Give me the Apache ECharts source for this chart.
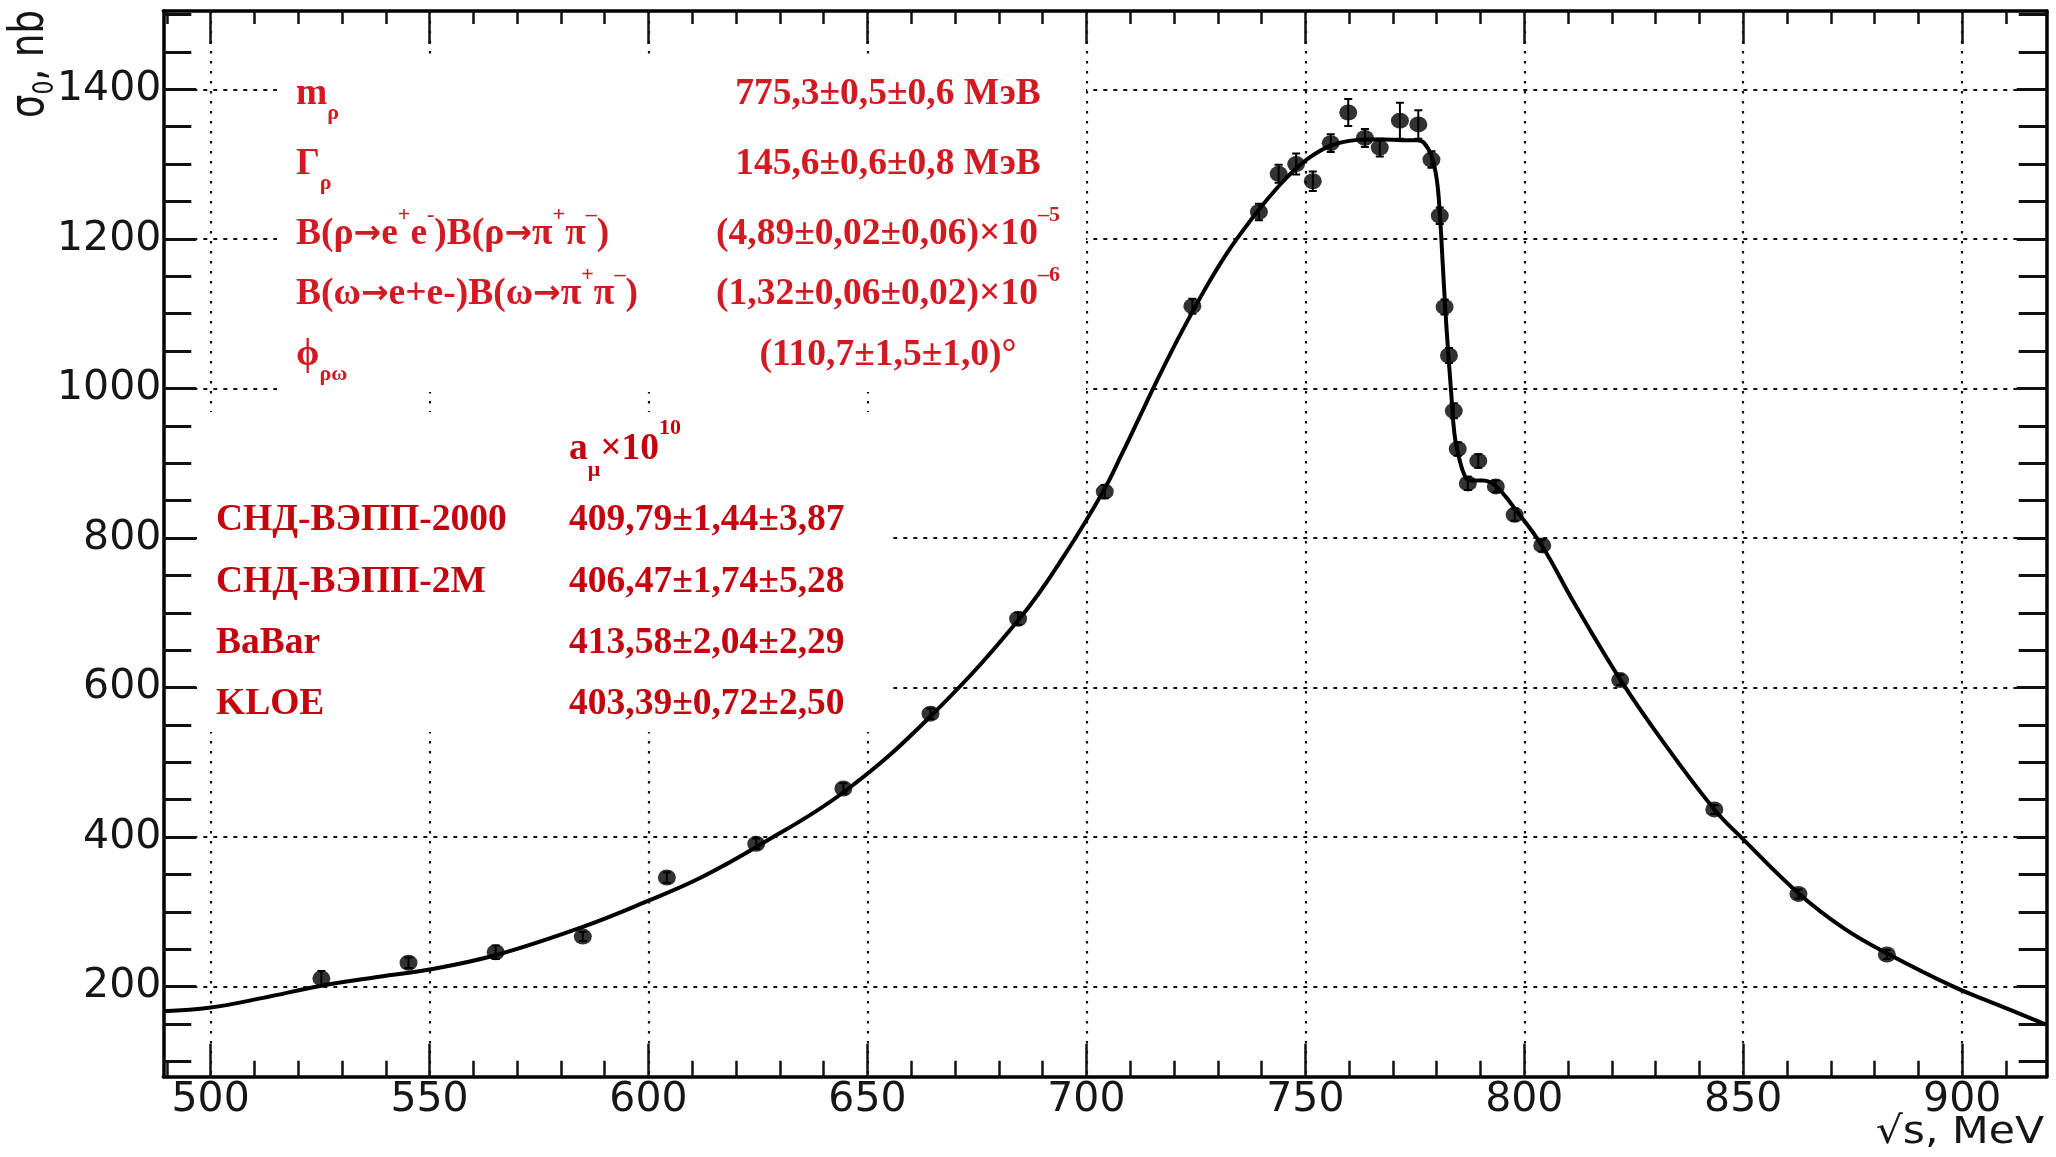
<!DOCTYPE html>
<html>
<head>
<meta charset="utf-8">
<script src="https://cdn.jsdelivr.net/npm/echarts@6.0.0/dist/echarts.min.js"></script>
<style>
  html, body { margin: 0; padding: 0; background: #fff; }
  #chart { width: 2056px; height: 1157px; }
</style>
</head>
<body>
<div id="chart"></div>
<script>
// SND points: sqrt(s) in MeV, sigma_0 in nb, stat. error
var energy = [525.3, 545.2, 565.1, 585.0, 604.2, 624.6, 644.5, 664.4, 684.4, 704.2,
  724.2, 739.4, 743.9, 747.9, 751.7, 755.8, 759.8, 763.6, 767.0, 771.6,
  775.8, 778.8, 780.7, 781.8, 782.8, 783.9, 784.8, 787.1, 789.5, 793.5,
  797.8, 804.1, 821.9, 843.4, 862.6, 882.8];
var sigma = [211, 232, 246, 267, 346, 391, 465, 565, 692, 862,
  1110, 1236, 1287, 1300, 1277, 1328, 1369, 1335, 1322, 1358,
  1353, 1306, 1231, 1109, 1044, 970, 919, 873, 903, 869,
  831, 790, 610, 437, 324, 243];
var sigmaErr = [10, 7, 9, 6, 7, 7, 7, 7, 8, 9,
  10, 11, 12, 14, 13, 12, 18, 12, 12, 24,
  19, 11, 11, 10, 10, 10, 9, 9, 9, 8,
  8, 8, 7, 6, 6, 6];

// fit curve
var fitE = [489.2, 500, 512, 525, 537, 550, 565, 585, 600, 612, 625, 645, 665, 685, 695,
  704, 708, 712, 716, 720, 724, 728, 732, 736, 739.5, 744, 747.5, 751, 755.5, 760, 764,
  768, 772, 775.5, 777, 778.8, 780, 780.7, 781.4, 782.2, 783.3, 784.1, 785.2, 786.4,
  787.5, 790.5, 793.6, 798, 804, 811.5, 822, 832, 843.4, 850, 862.6, 873, 883, 898,
  908, 919.3];
var fitSigma = [167, 172, 185, 201, 212, 223, 242, 280, 315, 346, 388, 462, 565, 694, 777,
  864, 911, 960, 1009, 1056, 1100, 1142, 1180, 1213, 1240, 1271, 1292, 1309, 1324, 1331, 1333,
  1333, 1332, 1332, 1329, 1311, 1280, 1235, 1164, 1084, 995, 937, 905, 883,
  877, 877, 869, 838, 790, 712, 610, 525, 437, 397, 325, 278, 244, 200,
  176, 149];

var xRange = [489.2, 919.3];
var yRange = [79.6, 1504.7];
var xMajor = [500, 550, 600, 650, 700, 750, 800, 850, 900];
var xMinor = [490, 510, 520, 530, 540, 560, 570, 580, 590, 610, 620, 630, 640,
  660, 670, 680, 690, 710, 720, 730, 740, 760, 770, 780, 790, 810, 820, 830, 840,
  860, 870, 880, 890, 910];
var yMajor = [200, 400, 600, 800, 1000, 1200, 1400];
var yMinor = [100, 150, 250, 300, 350, 450, 500, 550, 650, 700, 750, 850, 900, 950,
  1050, 1100, 1150, 1250, 1300, 1350, 1450, 1500];

// fit parameters (left: name, right: value)
var fitNames = ['{m|m}{sub|ρ}', '{m|Γ}{sub|ρ}',
  '{m|B(ρ}{arr|→}{m|e}{sup|+}{m|e}{sup|-}{m|)B(ρ}{arr|→}{m|π}{sup|+}{m|π}{sup|–}{m|)}',
  '{m|B(ω}{arr|→}{m|e+e-)B(ω}{arr|→}{m|π}{sup|+}{m|π}{sup|–}{m|)}',
  '{m|ϕ}{sub|ρω}'];
var fitValues = ['{m|775,3±0,5±0,6 МэВ}', '{m|145,6±0,6±0,8 МэВ}',
  '{m|(4,89±0,02±0,06)×10}{exp|–5}', '{m|(1,32±0,06±0,02)×10}{exp|–6}',
  '{m|(110,7±1,5±1,0)°}'];
var amuHeader = '{m|a}{sub|μ}{m|×10}{exp|10}';
var amuNames = ['СНД-ВЭПП-2000', 'СНД-ВЭПП-2М', 'BaBar', 'KLOE'];
var amuValues = ['409,79±1,44±3,87', '406,47±1,74±5,28', '413,58±2,04±2,29', '403,39±0,72±2,50'];

var SERIF = '"Liberation Serif", "DejaVu Serif", serif';
var SANS = '"DejaVu Sans", "Liberation Sans", sans-serif';
var RED = '#d11a22';
var RED2 = '#c2050f';
var INK = '#161616';

function richSet(size, color, lh) {
  var s = Math.round(size * 0.58);
  var base = { fontFamily: SERIF, fontWeight: 'bold', fill: color, color: color };
  return {
    m: echarts.util.extend({ fontSize: size, lineHeight: lh }, base),
    arr: { fontFamily: SANS, fontWeight: 'bold', fill: color, color: color,
      fontSize: Math.round(size * 0.88), lineHeight: lh - 4 },
    sub: echarts.util.extend({ fontSize: s, lineHeight: lh - 36, verticalAlign: 'bottom' }, base),
    sup: echarts.util.extend({ fontSize: s, lineHeight: lh - 4, verticalAlign: 'top' }, base),
    exp: echarts.util.extend({ fontSize: s, lineHeight: lh - 16, verticalAlign: 'top' }, base)
  };
}
var richTop = richSet(37.5, RED, 60);
var richBot = richSet(37.5, RED2, 64);

function label(x, y, text, rich, align) {
  return {
    type: 'text', x: x, y: y, z: 20,
    style: { text: text, rich: rich, fill: rich.m.fill, align: align, textAlign: align,
      verticalAlign: 'middle', textVerticalAlign: 'middle' }
  };
}

var topRows = [94, 164, 234, 294, 355];
var botRows = [520, 582, 643, 704];
var texts = [];
fitNames.forEach(function (t, i) {
  texts.push(label(296, topRows[i], t, richTop, 'left'));
  texts.push(label(888, topRows[i], fitValues[i], richTop, 'center'));
});
texts.push(label(569, 449, amuHeader, richBot, 'left'));
amuNames.forEach(function (t, i) {
  texts.push(label(216, botRows[i], '{m|' + t + '}', richBot, 'left'));
  texts.push(label(569, botRows[i], '{m|' + amuValues[i] + '}', richBot, 'left'));
});

var DOT_H = { color: '#111', width: 2.2, type: [4, 6] };
var DOT_V = { color: '#111', width: 2.2, type: [2.5, 7.5] };
var FRAME = { color: '#000', width: 3.5 };

function plain(v) { return String(v); }

function axis(pos, range, ticks, len, opts) {
  var a = {
    type: 'value', position: pos, min: range[0], max: range[1],
    axisLine: { show: !!opts.line, onZero: false, lineStyle: FRAME },
    axisTick: { show: true, inside: true, length: len, customValues: ticks,
      lineStyle: { color: '#111', width: opts.tw || 2.5 } },
    axisLabel: { show: false },
    splitLine: { show: false },
    minorTick: { show: false },
    minorSplitLine: { show: false }
  };
  if (opts.labels) {
    a.axisLabel = { show: true, customValues: ticks, margin: opts.margin, formatter: plain,
      fontFamily: SANS, fontSize: 41, color: INK };
  }
  if (opts.grid) a.splitLine = { show: true, lineStyle: opts.grid };
  return a;
}

var chart = echarts.init(document.getElementById('chart'), null, { renderer: 'canvas' });

var option = {
  animation: false,
  backgroundColor: '#fff',
  grid: { left: 163.3, right: 9.3, top: 11, bottom: 80.3, show: false, outerBoundsMode: 'none' },
  xAxis: [
    axis('bottom', xRange, xMajor, 33, { line: true, labels: true, margin: 3, grid: DOT_V }),
    axis('bottom', xRange, xMinor, 16, {}),
    axis('top', xRange, xMajor, 33, { line: true }),
    axis('top', xRange, xMinor, 13, {})
  ],
  yAxis: [
    axis('left', yRange, yMajor, 33, { line: true, labels: true, margin: 2, grid: DOT_H, tw: 3 }),
    axis('left', yRange, yMinor, 28, { tw: 3 }),
    axis('right', yRange, yMajor, 30, { line: true, tw: 3 }),
    axis('right', yRange, yMinor, 28, { tw: 3 })
  ],
  graphic: [
    { type: 'rect', z: 10, shape: { x: 277, y: 56, width: 809, height: 336 }, style: { fill: '#fff' } },
    { type: 'rect', z: 10, shape: { x: 197, y: 412, width: 691, height: 320 }, style: { fill: '#fff' } },
    {
      type: 'text', x: 31, y: 10, rotation: Math.PI / 2, scaleY: 1.3, z: 20,
      style: {
        text: '{a|σ}{s|0}{a|, nb}', fill: INK, align: 'right', textAlign: 'right',
        verticalAlign: 'middle', textVerticalAlign: 'middle',
        rich: {
          a: { fontFamily: SANS, fontSize: 37, fill: INK, lineHeight: 44 },
          s: { fontFamily: SANS, fontSize: 22, fill: INK, lineHeight: 26, verticalAlign: 'bottom' }
        }
      }
    },
    {
      type: 'text', x: 2044, y: 1133, scaleX: 1.12, z: 20,
      style: { text: '√s, MeV', fontFamily: SANS, fontSize: 38, fill: INK,
        align: 'right', textAlign: 'right', verticalAlign: 'middle', textVerticalAlign: 'middle' }
    }
  ].concat(texts),
  series: [
    {
      type: 'line',
      data: fitE.map(function (e, i) { return [e, fitSigma[i]]; }),
      showSymbol: false,
      smooth: 0.4,
      clip: true,
      lineStyle: { color: '#000', width: 4 },
      z: 3
    },
    {
      type: 'custom',
      data: energy.map(function (e, i) { return [e, sigma[i], sigmaErr[i]]; }),
      clip: true,
      z: 4,
      renderItem: function (params, api) {
        var x = api.value(0), y = api.value(1), err = api.value(2);
        var hi = api.coord([x, y + err]);
        var lo = api.coord([x, y - err]);
        var st = { stroke: '#000', lineWidth: 2 };
        return {
          type: 'group',
          children: [
            { type: 'line', shape: { x1: hi[0], y1: hi[1], x2: lo[0], y2: lo[1] }, style: st },
            { type: 'line', shape: { x1: hi[0] - 4, y1: hi[1], x2: hi[0] + 4, y2: hi[1] }, style: st },
            { type: 'line', shape: { x1: lo[0] - 4, y1: lo[1], x2: lo[0] + 4, y2: lo[1] }, style: st }
          ]
        };
      }
    },
    {
      type: 'scatter',
      data: energy.map(function (e, i) { return [e, sigma[i]]; }),
      symbol: 'circle',
      symbolSize: [18, 16],
      itemStyle: { color: '#000' },
      z: 5
    }
  ]
};

chart.setOption(option);
</script>
</body>
</html>
